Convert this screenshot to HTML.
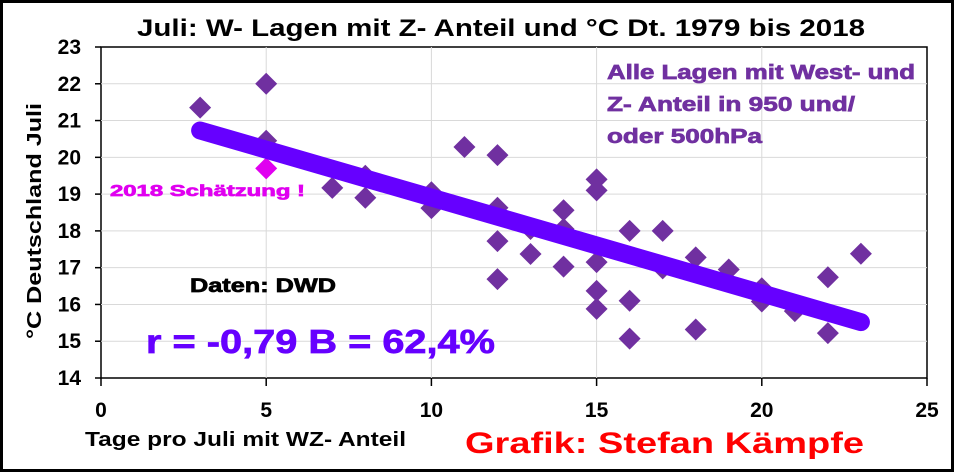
<!DOCTYPE html>
<html><head><meta charset="utf-8"><style>
html,body{margin:0;padding:0;background:#fff}
svg{display:block;font-family:"Liberation Sans",Arial,sans-serif;font-weight:bold}
.hv{stroke-width:0.7px;paint-order:stroke}
</style></head><body>
<svg id="chart" width="954" height="472" viewBox="0 0 954 472">
<rect x="1.5" y="1.5" width="951" height="469" fill="#fff" stroke="#000" stroke-width="3"/>
<text x="137" y="36" font-size="24" textLength="728" lengthAdjust="spacingAndGlyphs" fill="#000">Juli: W- Lagen mit Z- Anteil und °C Dt. 1979 bis 2018</text>
<g id="grid"></g>
<g id="axes"></g>
<g id="marks"></g>
<text class="hv" x="607" y="79" font-size="20" textLength="308" lengthAdjust="spacingAndGlyphs" fill="#7030a0" stroke="#7030a0">Alle Lagen mit West- und</text>
<text class="hv" x="607" y="111" font-size="20" textLength="248" lengthAdjust="spacingAndGlyphs" fill="#7030a0" stroke="#7030a0">Z- Anteil in 950 und/</text>
<text class="hv" x="607" y="143" font-size="20" textLength="155" lengthAdjust="spacingAndGlyphs" fill="#7030a0" stroke="#7030a0">oder 500hPa</text>
<text class="hv" x="110" y="196" font-size="16" textLength="195" lengthAdjust="spacingAndGlyphs" fill="#e000f0" stroke="#e000f0">2018 Schätzung !</text>
<text class="hv" x="190" y="292" font-size="19" textLength="146" lengthAdjust="spacingAndGlyphs" fill="#000" stroke="#000">Daten: DWD</text>
<text class="hv" x="146" y="353" font-size="33" textLength="349" lengthAdjust="spacingAndGlyphs" fill="#6600ff" stroke="#6600ff">r = -0,79  B = 62,4%</text>
<text transform="translate(41,221) rotate(-90)" font-size="20" text-anchor="middle" textLength="236" lengthAdjust="spacingAndGlyphs" fill="#000">°C Deutschland Juli</text>
<text x="85" y="446" font-size="20" textLength="321" lengthAdjust="spacingAndGlyphs" fill="#000">Tage pro Juli mit WZ- Anteil</text>
<text x="465" y="453" font-size="30" textLength="399" lengthAdjust="spacingAndGlyphs" fill="#ff0000">Grafik: Stefan Kämpfe</text>
</svg>
<script>
const xTicks=[0,5,10,15,20,25];
const yTicks=[14,15,16,17,18,19,20,21,22,23];
const daysX=[3,5,5,7,8,8,10,10,11,12,12,12,12,13,13,14,14,14,15,15,15,15,15,16,16,16,17,17,18,18,19,20,20,21,22,22,23];
const tempY=[21.35,22.0,20.45,19.17,19.5,18.9,19.05,18.62,20.28,20.06,18.63,17.72,16.69,18.05,17.37,18.56,18.05,17.03,19.4,19.1,17.15,16.37,15.88,18.0,16.1,15.07,18.0,16.98,17.28,15.32,16.95,16.44,16.08,15.82,16.74,15.22,17.38];
const est2018X=[5];
const est2018Y=[19.7];
const trendX=[3,23];
const trendY=[20.73,15.52];
const X0=101,X1=927,Y0=378,Y1=47;
const sx=v=>X0+(v-0)/(25-0)*(X1-X0);
const sy=v=>Y0-(v-14)/(23-14)*(Y0-Y1);
const NS="http://www.w3.org/2000/svg";
function mk(tag,attrs,parent){const e=document.createElementNS(NS,tag);for(const k in attrs)e.setAttribute(k,attrs[k]);parent.appendChild(e);return e;}
const grid=document.getElementById('grid'),axes=document.getElementById('axes'),marks=document.getElementById('marks');
mk('rect',{x:X0,y:Y1,width:X1-X0,height:Y0-Y1,fill:'#fff',stroke:'#000','stroke-width':1.5},grid);
yTicks.forEach(t=>{
  if(t>14&&t<23){const l=mk('line',{x1:X0,x2:X1,y1:sy(t),y2:sy(t),stroke:'#d9d9d9','stroke-width':1},grid);
  
  }
  const tk=mk('line',{x1:X0-6,x2:X0,y1:sy(t),y2:sy(t),stroke:'#000','stroke-width':1.5},axes);
  
  
  const tx=mk('text',{x:81,y:sy(t)+7,'font-size':21,'text-anchor':'end',fill:'#000'},axes);
  tx.textContent=t;
  
  
});
xTicks.forEach(t=>{
  if(t>0&&t<25){const l=mk('line',{x1:sx(t),x2:sx(t),y1:Y1,y2:Y0,stroke:'#d9d9d9','stroke-width':1},grid);
  
  }
  const tk=mk('line',{x1:sx(t),x2:sx(t),y1:Y0,y2:Y0+8,stroke:'#000','stroke-width':1.5},axes);
  
  
  const tx=mk('text',{x:sx(t),y:417,'font-size':21,'text-anchor':'middle',fill:'#000'},axes);
  tx.textContent=t;
  
  
});
function diamond(x,y,c){const r=11;return mk('polygon',{points:`${x},${y-r} ${x+r},${y} ${x},${y+r} ${x-r},${y}`,fill:c},marks);}
daysX.forEach((d,i)=>{
  const p=diamond(sx(d),sy(tempY[i]),'#7030a0');
  
  
});
est2018X.forEach((d,i)=>{
  const p=diamond(sx(d),sy(est2018Y[i]),'#e000f0');
  
  
});
const tl=mk('line',{x1:sx(trendX[0]),y1:sy(trendY[0]),x2:sx(trendX[1]),y2:sy(trendY[1]),stroke:'#6600ff','stroke-width':18,'stroke-linecap':'round'},marks);


</script>
</body></html>
